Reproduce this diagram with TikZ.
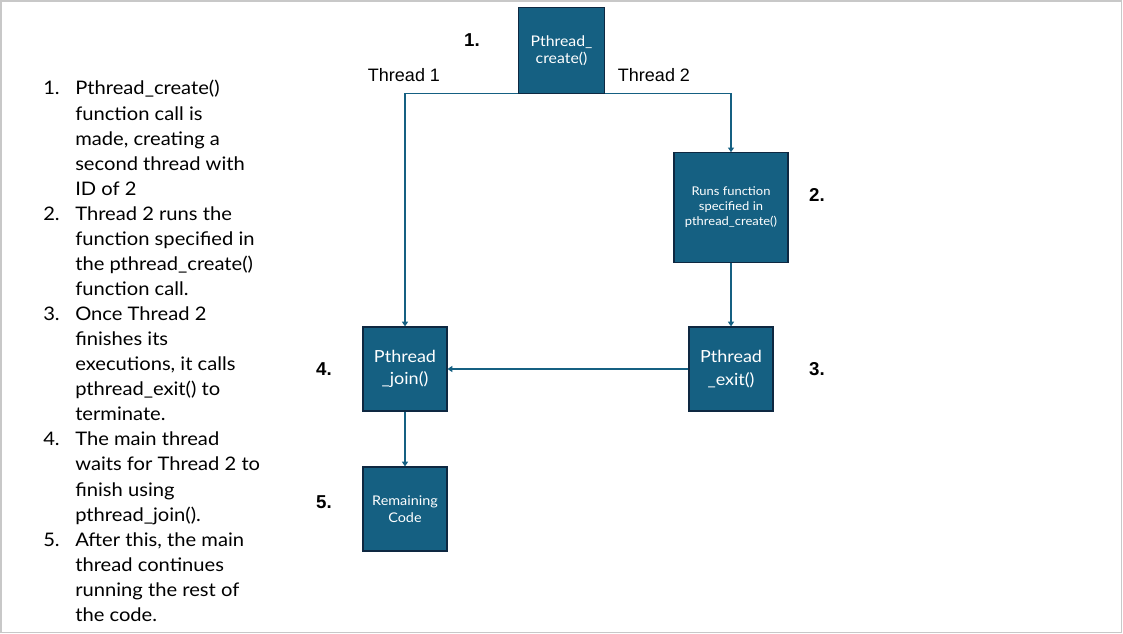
\documentclass[tikz,border=0pt]{standalone}
\usepackage{fontspec}
\usepackage{xcolor}
\usepackage{tikz}
\usetikzlibrary{arrows.meta}
\setmainfont{Liberation Sans}
\newfontfamily\listfont[FakeStretch=1.08]{Lato}

\definecolor{boxfill}{RGB}{21,96,130}
\definecolor{boxline}{RGB}{14,40,65}
\definecolor{framegray}{RGB}{200,200,200}

\tikzset{
  box/.style={draw=boxline, line width=0.9pt, fill=boxfill, text=white, inner sep=0pt,
    minimum width=63pt, minimum height=63pt, align=center, font=\listfont\fontsize{12.5}{17}\selectfont},
  link/.style={draw=boxfill, line width=1pt, -{Triangle[length=3.5pt,width=4.5pt]}},
  stepno/.style={font=\fontsize{14}{16}\selectfont\bfseries, inner sep=0pt},
  thread/.style={font=\fontsize{13.5}{16}\selectfont, inner sep=0pt}
}

\begin{document}
\begin{tikzpicture}[x=0.75pt,y=0.75pt,yscale=-1,xscale=1]
\useasboundingbox (0,0) rectangle (1123,634);
%frame
\draw [framegray, line width=1.1pt] (0.8,0.8) rectangle (1121.5,632.5);

%Steps list
\node (steps) [anchor=base west, inner sep=0pt, font=\listfont\fontsize{14}{18.8}\selectfont] at (43,95) {%
\begin{tabular}[t]{@{}p{24pt}@{}l@{}}
1. & Pthread\_create()\\
   & function call is\\
   & made, creating a\\
   & second thread with\\
   & ID of 2\\
2. & Thread 2 runs the\\
   & function specified in\\
   & the pthread\_create()\\
   & function call.\\
3. & Once Thread 2\\
   & finishes its\\
   & executions, it calls\\
   & pthread\_exit() to\\
   & terminate.\\
4. & The main thread\\
   & waits for Thread 2 to\\
   & finish using\\
   & pthread\_join().\\
5. & After this, the main\\
   & thread continues\\
   & running the rest of\\
   & the code.
\end{tabular}};

%Boxes
\node (create) [box, minimum width=64pt, minimum height=64pt, font=\listfont\fontsize{11}{12.5}\selectfont] at (561.5,50.5) {Pthread\_\\create()};
\node (runs) [box, minimum width=85.5pt, minimum height=82pt, font=\listfont\fontsize{9}{11.25}\selectfont] at (731,207.5) {Runs function\\specified in\\pthread\_create()};
\node (exit) [box] at (731,369) {Pthread\\\_exit()};
\node (join) [box] at (405,369) {Pthread\\\_join()};
\node (remain) [box, font=\listfont\fontsize{10}{12.75}\selectfont] at (405,509) {Remaining\\Code};

%Connectors
\draw [link] (create.south west) -| (join.north);
\draw [link] (create.south east) -| (runs.north);
\draw [link] (runs) -- (exit);
\draw [link] (exit) -- (join);
\draw [link] (join) -- (remain);

% Text Node
\node (t1) [thread] at (404,75) {Thread 1};
% Text Node
\node (t2) [thread] at (654,75) {Thread 2};
% Text Node
\node (n1) [stepno] at (472,40) {1.};
% Text Node
\node (n2) [stepno] at (817,195) {2.};
% Text Node
\node (n3) [stepno] at (817,369) {3.};
% Text Node
\node (n4) [stepno] at (324,369) {4.};
% Text Node
\node (n5) [stepno] at (324,502) {5.};

\end{tikzpicture}
\end{document}
